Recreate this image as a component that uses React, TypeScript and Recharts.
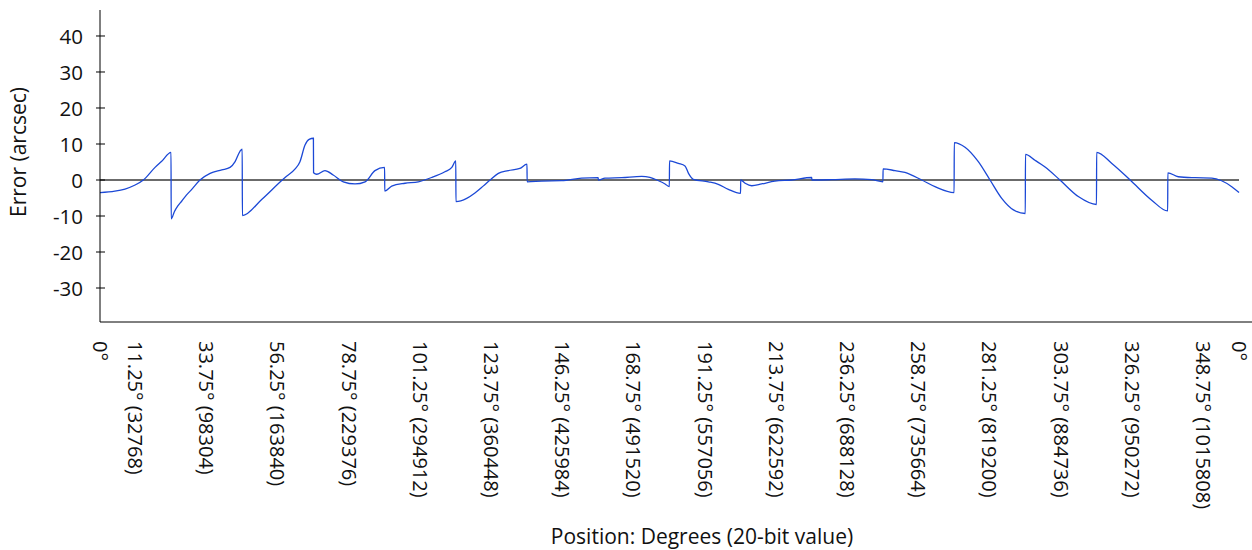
import { LineChart, Line, XAxis, YAxis, ReferenceLine, Label } from 'recharts';

// position in degrees, 16 sectors of 22.5° each
const positionDeg = [
  0, 4.7, 7.9, 11.1, 13.7, 17.4, 19.5, 22.45,
  22.5, 23.5, 24.6, 25.8, 27.3, 29, 31.6, 34.8, 38.5, 41.1, 42.7, 44.2, 44.95,
  45, 51.1, 57.6, 58.5, 61.6, 63.2, 64.8, 66.1, 67.45,
  67.5, 68.5, 71.1, 73.7, 76.9, 80.6, 83.8, 86.9, 89.95,
  90, 92.2, 96.4, 100.6, 104.8, 109, 111.2, 112.45,
  112.5, 115.9, 118.5, 121.1, 123.3, 125.9, 129, 132.7, 134.95,
  135, 139.6, 145.9, 152.2, 157.45,
  157.5, 159.6, 164.9, 171.2, 173.8, 176, 178.6, 179.95,
  180, 182.8, 184.9, 186, 187.5, 192.3, 195.4, 198.6, 202.45,
  202.5, 203.9, 206, 209.1, 213.3, 218.6, 224.95,
  225, 231.3, 238.6, 243.9, 247.45,
  247.5, 251.3, 254.4, 259.7, 263.9, 269.95,
  270, 273.4, 277.6, 281.3, 285, 288.7, 292.45,
  292.5, 295.5, 298.7, 303.4, 309.2, 314.95,
  315, 319.8, 325.6, 332.4, 337.45,
  337.5, 340.8, 346.1, 351.4, 354.5, 357.7, 360,
];

// error in arcsec
const errorArcsec = [
  -3.5, -3.1, -2.5, -1.4, 0, 3.5, 5.2, 7.7,
  -10.8, -8.8, -7.2, -5.9, -4.2, -2.6, 0, 1.85, 2.8, 3.5, 5.1, 7.9, 8.6,
  -9.9, -5.4, 0, 0.7, 3.0, 5.1, 9.7, 11.3, 11.6,
  2.0, 1.6, 2.6, 1.4, -0.5, -1.1, -0.5, 2.6, 3.5,
  -3.1, -1.7, -0.9, -0.5, 0.7, 2.3, 3.5, 5.3,
  -6, -5.1, -3.6, -1.7, 0, 1.85, 2.6, 3.2, 4.4,
  -0.5, -0.3, -0.2, 0.5, 0.65,
  0, 0.5, 0.65, 1.0, 0.7, 0, -1.1, -1.85,
  5.3, 4.6, 3.9, 1.85, 0.2, -0.5, -1.2, -2.6, -3.7,
  0, -0.9, -1.6, -1.1, -0.3, 0, 0.7,
  0, 0.1, 0.3, 0.1, -0.5,
  3.1, 2.6, 2.1, 0, -1.85, -3.5,
  10.4, 9.1, 5.1, 0, -5.1, -8.3, -9.3,
  7.1, 5.5, 3.6, 0, -4.6, -6.8,
  7.7, 4.6, 0, -5.6, -8.6,
  2.0, 0.9, 0.65, 0.55, -0.2, -1.85, -3.5,
];

const xTicks = [0, 11.25, 33.75, 56.25, 78.75, 101.25, 123.75, 146.25, 168.75, 191.25, 213.75, 236.25, 258.75, 281.25, 303.75, 326.25, 348.75, 360];
const xTickLabels = [
  '0°', '11.25° (32768)', '33.75° (98304)', '56.25° (163840)', '78.75° (229376)',
  '101.25° (294912)', '123.75° (360448)', '146.25° (425984)', '168.75° (491520)',
  '191.25° (557056)', '213.75° (622592)', '236.25° (688128)', '258.75° (735664)',
  '281.25° (819200)', '303.75° (884736)', '326.25° (950272)', '348.75° (1015808)', '0°',
];
const yTicks = [-30, -20, -10, 0, 10, 20, 30, 40];

const data = positionDeg.map((p, i) => ({ pos: p, err: errorArcsec[i] }));

const FONT = '"Open Sans", sans-serif';
const TEXT = '#111';

const XTick = (props: any) => {
  const { x, y, index } = props;
  return (
    <text
      transform={`translate(${x},${y + 19}) rotate(90)`}
      textAnchor="start"
      dominantBaseline="central"
      fontFamily={FONT}
      fontSize={20}
      fill={TEXT}
    >
      {xTickLabels[index]}
    </text>
  );
};

const YTick = (props: any) => {
  const { x, y, payload } = props;
  return (
    <g>
      <line x1={x - 4} x2={x + 5} y1={y} y2={y} stroke="#000" strokeWidth={1} />
      <text x={x - 17} y={y} textAnchor="end" dominantBaseline="central" fontFamily={FONT} fontSize={20.5} fill={TEXT}>
        {payload.value}
      </text>
    </g>
  );
};

export default function App() {
  return (
    <div style={{ position: 'absolute', left: 0, top: 0, background: '#fff' }}>
      <LineChart width={1252} height={550} data={data} margin={{ top: 10, right: 0, bottom: 0, left: 0 }}>
        <XAxis
          dataKey="pos"
          type="number"
          domain={[0, 364.1]}
          ticks={xTicks}
          interval={0}
          tickLine={false}
          tickSize={0}
          tickMargin={0}
          tick={<XTick />}
          height={228}
          axisLine={{ stroke: '#000', strokeWidth: 1 }}
          allowDataOverflow
        >
          <Label
            content={({ viewBox }: any) => (
              <text
                x={viewBox.x + 602}
                y={viewBox.y + viewBox.height - 14}
                textAnchor="middle"
                dominantBaseline="central"
                fontFamily={FONT}
                fontSize={21}
                fill={TEXT}
              >
                Position: Degrees (20-bit value)
              </text>
            )}
          />
        </XAxis>
        <YAxis
          type="number"
          domain={[-39.44, 47.22]}
          ticks={yTicks}
          interval={0}
          width={100}
          tickLine={false}
          tickSize={0}
          tickMargin={0}
          tick={<YTick />}
          axisLine={{ stroke: '#000', strokeWidth: 1 }}
          allowDataOverflow
        >
          <Label
            content={({ viewBox }: any) => (
              <text
                transform={`translate(${viewBox.x + 18},${viewBox.y + 142}) rotate(-90)`}
                textAnchor="middle"
                dominantBaseline="central"
                fontFamily={FONT}
                fontSize={21}
                fill={TEXT}
              >
                Error (arcsec)
              </text>
            )}
          />
        </YAxis>
        <ReferenceLine
          segment={[{ x: 0, y: 0 }, { x: 360, y: 0 }]}
          stroke="#3a3a3a"
          strokeWidth={1.5}
        />
        <Line
          type="monotoneX"
          dataKey="err"
          stroke="#1b48d6"
          strokeWidth={1.3}
          dot={false}
          activeDot={false}
          isAnimationActive={false}
        />
      </LineChart>
    </div>
  );
}
